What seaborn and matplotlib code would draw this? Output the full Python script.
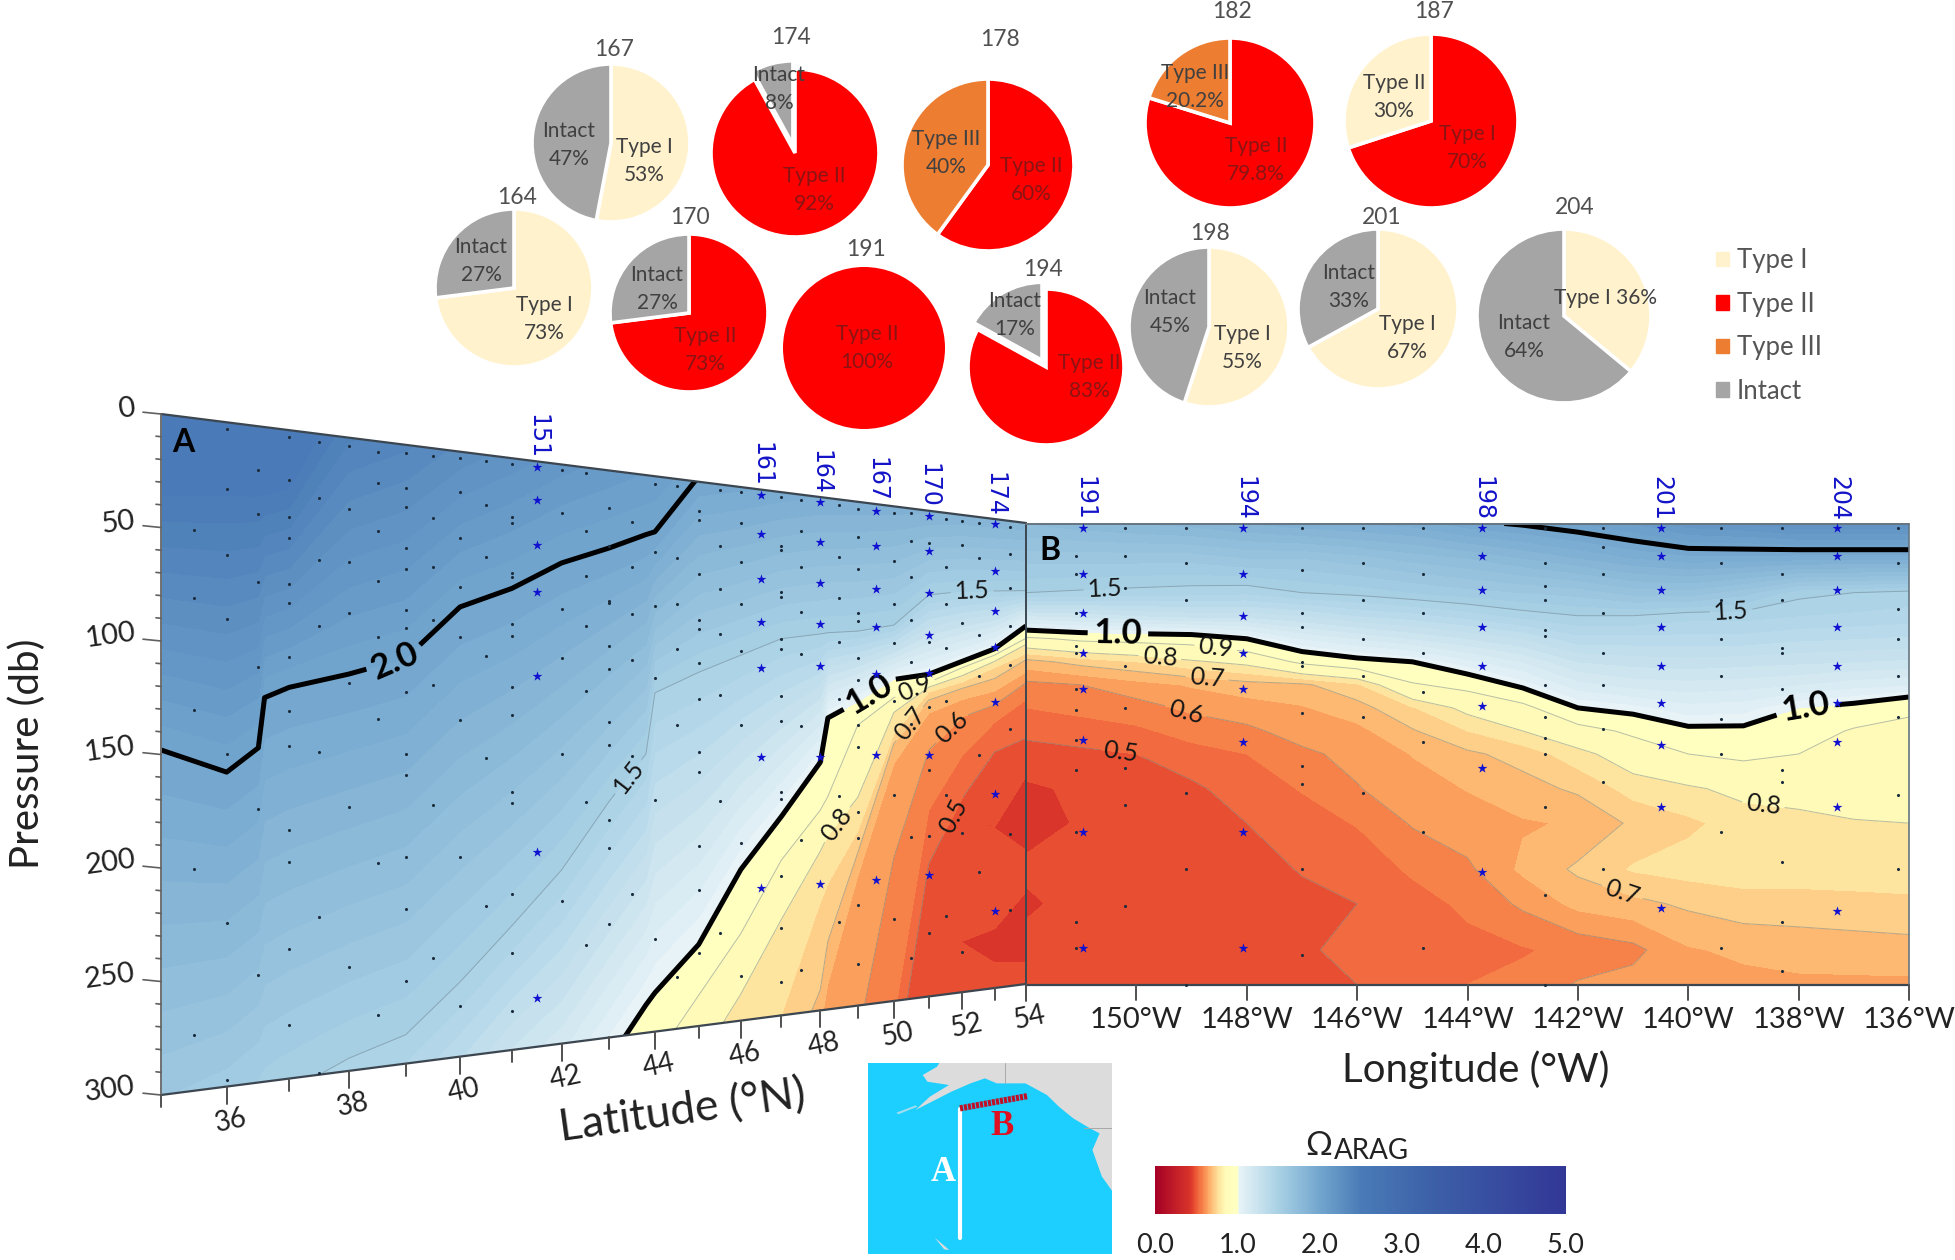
import numpy as np
import matplotlib
matplotlib.use("Agg")
import matplotlib.pyplot as plt
from matplotlib.colors import LinearSegmentedColormap, Normalize
from matplotlib.patches import Patch, Polygon
import seaborn as sns

W, H = 1955, 1260

sns.set_theme(style="white")
plt.rcParams["font.family"] = ["Lato", "DejaVu Sans"]

# ---- pies: station, slices, values
pie_names = ["167", "174", "178", "164", "170", "191", "194", "182", "187", "198", "201", "204"]
pie_kinds = [["Type I", "Intact"], ["Type II", "Intact"], ["Type II", "Type III"],
             ["Type I", "Intact"], ["Type II", "Intact"], ["Type II"], ["Type II", "Intact"],
             ["Type II", "Type III"], ["Type II", "Type I"], ["Type I", "Intact"],
             ["Type I", "Intact"], ["Type I", "Intact"]]
pie_values = [[53, 47], [92, 8], [60, 40], [73, 27], [73, 27], [100], [83, 17],
              [79.8, 20.2], [70, 30], [55, 45], [67, 33], [36, 64]]
pie_text = [["Type I\n53%", "Intact\n47%"], ["Type II\n92%", "Intact\n8%"], ["Type II\n60%", "Type III\n40%"],
            ["Type I\n73%", "Intact\n27%"], ["Type II\n73%", "Intact\n27%"], ["Type II\n100%"],
            ["Type II\n83%", "Intact\n17%"], ["Type II\n79.8%", "Type III\n20.2%"],
            ["Type I\n70%", "Type II\n30%"], ["Type I\n55%", "Intact\n45%"],
            ["Type I\n67%", "Intact\n33%"], ["Type I 36%", "Intact\n64%"]]
pie_explode = [[0, 0], [0, 0.1], [0, 0], [0, 0], [0, 0], [0], [0, 0.1], [0, 0], [0, 0], [0, 0], [0, 0], [0, 0]]

# where things sit on the page (px)
pie_centers = [(611, 143), (795, 153), (988, 165), (514, 288), (689, 313), (864, 348),
               (1046, 367), (1230, 123), (1431, 121), (1209, 327), (1378, 309), (1564, 316)]
pie_radius = [79, 84, 86, 79, 79, 81, 78, 85, 87, 80, 80, 87]
pie_title_xy = [(614, 49), (791, 37), (1000, 39), (517, 197), (690, 218), (866, 250),
                (1043, 269), (1232, 11), (1434, 12), (1210, 233), (1382, 217), (1575, 208)]
pie_label_xy = [[(644, 161), (569, 145)], [(814, 190), (779, 89)], [(1031, 180), (946, 153)],
                [(544, 319), (481, 261)], [(705, 350), (657, 289)], [(867, 348)],
                [(1089, 377), (1015, 315)], [(1256, 160), (1195, 87)], [(1467, 148), (1394, 97)],
                [(1242, 348), (1170, 312)], [(1407, 338), (1349, 287)], [(1605, 298), (1524, 337)]]

kind_colors = {"Type I": "#fff2cc", "Type II": "#ff0000", "Type III": "#ed7d31", "Intact": "#a5a5a5"}

# ---- section A: depth (db) of each isoline at each latitude
a_lats = [35, 36, 36.5, 36.6, 37, 38, 39, 40, 41, 42, 43, 43.8, 44, 45, 46, 47, 48, 48.2, 49, 50, 51, 52, 53, 54]
a_iso = [3.0, 2.5, 2.0, 1.5, 1.0, 0.9, 0.8, 0.75, 0.7, 0.65, 0.6, 0.55, 0.5,
         0.45, 0.43, 0.45, 0.47, 0.45, 0.43, 0.45, 0.47]
a_p30 = [-400, -400, -400, -400, -400, -400, -400, -400, -400, -400, -400, -400, -400, -400, -400, -400, -400, -400, -400, -400, -400, -400, -400, -400]
a_p25 = [36, 33, 32, 31, 27, -25, -40, -60, -80, -100, -120, -136, -140, -160, -180, -200, -220, -224, -240, -260, -280, -300, -320, -340]
a_p20 = [148, 158, 147, 124, 119, 112, 103.5, 77, 66, 51, 41, 32, 30, -3, -8, -14, -20, -20, -22, -24, -20, -22, -22, -22]
a_p15 = [340, 325, 315, 312, 306, 294, 286, 263, 237, 210, 175, 150, 117, 105, 94.5, 84, 80, 79, 77, 72, 52, 48, 46, 44]
a_p10 = [520, 500, 490, 488, 480, 450, 420, 390, 360, 345, 312, 285, 279, 255, 215, 186, 155, 129, 119, 105, 101, 92, 83, 67]
a_p09 = [560, 540, 530, 528, 520, 490, 460, 430, 400, 385, 345, 321, 315, 283, 251, 211, 183, 175, 133, 116, 106, 96, 87, 75]
a_p08 = [700, 700, 700, 700, 700, 700, 700, 700, 700, 700, 390, 358, 350, 320, 285, 245, 207, 198, 176, 125, 109, 101, 91, 79]
a_p075 = [710, 710, 710, 710, 710, 710, 710, 710, 710, 710, 420, 388, 380, 350, 330, 300, 237, 226, 196, 138, 112, 105, 95, 85]
a_p07 = [720, 720, 720, 720, 720, 720, 720, 720, 720, 720, 450, 410, 400, 380, 360, 340, 288, 260, 209, 144, 117, 109, 102, 89]
a_p065 = [730, 730, 730, 730, 730, 730, 730, 730, 730, 730, 480, 432, 420, 400, 390, 370, 310, 285, 223, 156, 125, 116, 110, 97]
a_p06 = [740, 740, 740, 740, 740, 740, 740, 740, 740, 740, 510, 454, 440, 420, 410, 400, 340, 335, 320, 213, 148, 127, 119, 104]
a_p055 = [750, 750, 750, 750, 750, 750, 750, 750, 750, 750, 540, 476, 460, 440, 430, 420, 370, 365, 350, 311, 185, 151, 130, 115]
a_p05 = [760, 760, 760, 760, 760, 760, 760, 760, 760, 760, 570, 498, 480, 460, 450, 440, 400, 395, 380, 350, 218, 178, 149, 140]
# the two dark tongues at the north end
a_t1 = [770, 770, 770, 770, 770, 770, 770, 770, 770, 770, 600, 520, 500, 480, 470, 460, 430, 425, 410, 380, 340, 185, 197, 165]
a_t2 = [771, 771, 771, 771, 771, 771, 771, 771, 771, 771, 601, 521, 501, 481, 471, 461, 431, 426, 411, 381, 341, 185.5, 197.5, 190]
a_t3 = [772, 772, 772, 772, 772, 772, 772, 772, 772, 772, 602, 522, 502, 482, 472, 462, 432, 427, 412, 382, 342, 186, 198, 213]
a_t4 = [773, 773, 773, 773, 773, 773, 773, 773, 773, 773, 603, 523, 503, 483, 473, 463, 433, 428, 413, 383, 343, 225, 225, 226]
a_t5 = [774, 774, 774, 774, 774, 774, 774, 774, 774, 774, 604, 524, 504, 484, 474, 464, 434, 429, 414, 384, 344, 268, 262, 240]
a_t6 = [775, 775, 775, 775, 775, 775, 775, 775, 775, 775, 605, 525, 505, 485, 475, 465, 435, 430, 415, 385, 345, 268.5, 273, 265]
a_t7 = [776, 776, 776, 776, 776, 776, 776, 776, 776, 776, 606, 526, 506, 486, 476, 466, 436, 431, 416, 386, 346, 269, 284, 286]
a_t8 = [800, 800, 800, 800, 800, 800, 800, 800, 800, 800, 620, 540, 520, 500, 490, 480, 450, 445, 430, 400, 360, 340, 340, 340]

# ---- section B: omega on a lon / pressure table
b_lons = [152, 151, 150, 149, 148, 147, 146, 145, 144, 143, 142, 141, 140, 139, 138, 137, 136]
b_press = [50, 65, 80, 90, 100, 110, 120, 130, 140, 150, 165, 180, 200, 215, 235, 250]
b_omega = [
    [1.75, 1.62, 1.50, 1.20, 0.88, 0.68, 0.585, 0.55, 0.51, 0.485, 0.44, 0.43, 0.46, 0.44, 0.47, 0.48],
    [1.78, 1.62, 1.49, 1.22, 0.92, 0.72, 0.60, 0.565, 0.525, 0.49, 0.46, 0.455, 0.47, 0.47, 0.48, 0.48],
    [1.80, 1.62, 1.48, 1.25, 0.93, 0.75, 0.63, 0.58, 0.54, 0.50, 0.48, 0.47, 0.47, 0.47, 0.48, 0.48],
    [1.82, 1.62, 1.47, 1.27, 0.94, 0.79, 0.655, 0.61, 0.57, 0.53, 0.49, 0.47, 0.47, 0.47, 0.48, 0.48],
    [1.85, 1.65, 1.46, 1.27, 1.00, 0.82, 0.68, 0.625, 0.59, 0.55, 0.525, 0.50, 0.47, 0.47, 0.48, 0.48],
    [1.88, 1.65, 1.50, 1.30, 1.10, 0.92, 0.69, 0.645, 0.62, 0.59, 0.553, 0.53, 0.505, 0.48, 0.495, 0.49],
    [1.90, 1.68, 1.52, 1.35, 1.15, 0.97, 0.74, 0.68, 0.635, 0.615, 0.597, 0.553, 0.52, 0.50, 0.51, 0.50],
    [1.92, 1.72, 1.55, 1.38, 1.20, 1.00, 0.89, 0.745, 0.695, 0.652, 0.63, 0.605, 0.558, 0.53, 0.52, 0.52],
    [1.98, 1.75, 1.58, 1.42, 1.25, 1.08, 0.93, 0.82, 0.75, 0.69, 0.652, 0.63, 0.59, 0.56, 0.535, 0.55],
    [2.01, 1.80, 1.60, 1.47, 1.30, 1.15, 1.02, 0.87, 0.80, 0.72, 0.68, 0.645, 0.66, 0.61, 0.545, 0.565],
    [2.05, 1.85, 1.62, 1.50, 1.38, 1.25, 1.13, 1.00, 0.86, 0.78, 0.71, 0.655, 0.71, 0.665, 0.565, 0.605],
    [2.10, 1.90, 1.67, 1.50, 1.38, 1.27, 1.17, 1.03, 0.92, 0.84, 0.77, 0.71, 0.755, 0.685, 0.585, 0.62],
    [2.18, 1.93, 1.68, 1.47, 1.38, 1.28, 1.18, 1.08, 0.98, 0.90, 0.79, 0.74, 0.77, 0.71, 0.645, 0.63],
    [2.20, 1.93, 1.62, 1.47, 1.38, 1.27, 1.17, 1.07, 0.98, 0.92, 0.82, 0.77, 0.775, 0.73, 0.66, 0.635],
    [2.25, 1.92, 1.52, 1.45, 1.36, 1.26, 1.15, 1.00, 0.95, 0.90, 0.83, 0.78, 0.775, 0.73, 0.67, 0.64],
    [2.25, 1.92, 1.50, 1.44, 1.35, 1.25, 1.12, 0.97, 0.89, 0.87, 0.84, 0.795, 0.775, 0.735, 0.675, 0.64],
    [2.25, 1.92, 1.48, 1.43, 1.34, 1.24, 1.10, 0.91, 0.885, 0.87, 0.84, 0.80, 0.775, 0.74, 0.68, 0.64],
]

# ---- stations (stars)
a_stations = ["151", "161", "164", "167", "170", "174"]
a_station_lat = [41.5, 46.5, 48, 49.5, 51, 53]
a_station_p = [[3, 20, 43, 67, 110, 200, 275],
               [3, 25, 51, 75, 101, 152, 226],
               [3, 26, 50, 74, 99, 152, 226],
               [4, 25, 51, 74, 102, 151, 226],
               [3, 25, 51, 77, 100, 151, 225],
               [3, 33, 59, 82, 117, 176, 251]]
b_stations = ["191", "194", "198", "201", "204"]
b_station_lon = [150.96, 148.06, 143.74, 140.5, 137.3]
b_station_p = [[52, 72, 89, 106, 122, 144, 184, 234],
               [52, 72, 90, 106, 122, 145, 184, 234],
               [52, 64, 79, 95, 112, 129, 156, 201],
               [52, 64, 79, 95, 112, 128, 146, 173, 217],
               [52, 64, 79, 95, 112, 128, 145, 173, 218]]

# ---- bottle depths (small dots)
a_dots = {
    35.5: [50, 80, 130, 201, 275],
    36: [3, 30, 60, 89, 150, 226, 297],
    36.5: [20, 40, 71, 110, 175, 251],
    37: [3, 23, 40, 50, 71, 80, 105, 130, 146, 185, 200, 240, 275],
    37.5: [4, 30, 59, 90, 149, 226, 299],
    38: [4, 34, 59, 83, 116, 175, 251],
    38.5: [5, 20, 43, 67, 94, 133, 202, 275],
    39: [4, 21, 30, 50, 60, 80, 89, 120, 150, 160, 200, 225, 260],
    39.5: [4, 34, 58, 84, 116, 175, 250],
    40: [3, 20, 43, 67, 92, 133, 201, 275],
    40.5: [3, 25, 51, 101, 152, 226],
    41: [3, 30, 33, 58, 60, 84, 90, 116, 130, 169, 175, 221, 251, 280],
    42: [3, 25, 75, 100, 150, 226],
    42.5: [3, 33, 57, 83, 117, 175, 250],
    43: [20, 40, 69, 70, 93, 105, 133, 145, 185, 200, 240],
    43.5: [26, 50, 75, 100, 151, 225],
    44: [4, 41, 70, 109, 175, 250],
    44.5: [4, 43, 68, 93, 134, 272],
    45: [16, 21, 51, 76, 81, 100, 120, 149, 160, 201, 225, 260],
    45.5: [3, 34, 58, 83, 117, 176, 250],
    46: [3, 20, 42, 66, 92, 134, 200, 275],
    47: [3, 31, 33, 57, 60, 84, 90, 117, 131, 172, 176, 220, 250, 281],
    47.5: [3, 21, 42, 68, 92, 134, 200, 275],
    48.5: [3, 34, 58, 84, 118, 175, 249],
    49: [4, 21, 40, 66, 71, 93, 106, 133, 146, 185, 200, 240, 275],
    50: [4, 33, 59, 83, 118, 175, 250],
    50.5: [3, 20, 42, 68, 94, 132, 201, 275],
    51: [20, 81, 121, 160, 201, 261],
    51.5: [4, 34, 57, 84, 117, 176, 251],
    52: [4, 19, 68, 200, 275],
    52.5: [4, 26, 75, 101, 151, 225],
    53.5: [4, 21, 43, 68, 93, 134, 202, 251],
}
b_dots = {
    151.1: [64, 72, 89, 103, 106, 122, 131, 144, 157, 184, 223, 234],
    150.2: [52, 64, 78, 112, 130, 156, 172, 216],
    149.1: [52, 67, 83, 167, 200, 250],
    147: [52, 70, 89, 95, 110, 112, 132, 155, 163, 200, 237],
    145.9: [52, 67, 83, 100, 116, 134, 167],
    144.8: [52, 72, 89, 106, 123, 145, 184, 234],
    142.6: [52, 67, 77, 83, 96, 99, 120, 134, 143, 150, 173, 211, 250],
    141.55: [52, 60, 72, 89, 106, 120, 139, 162, 200],
    139.4: [52, 67, 83, 100, 116, 135, 150, 184, 234],
    138.3: [52, 72, 83, 104, 106, 122, 157, 162, 197, 223, 244],
    136.2: [52, 67, 87, 100, 116, 134, 168, 200],
}

# ---- axes ticks
p_ticks = [0, 50, 100, 150, 200, 250, 300]
lat_ticks = [36, 38, 40, 42, 44, 46, 48, 50, 52, 54]
lat_minor = [35, 37, 39, 41, 43, 45, 47, 49, 51, 53]
lon_ticks = [150, 148, 146, 144, 142, 140, 138, 136]
cbar_ticks = [0, 1, 2, 3, 4, 5]

# ---- map outlines, in map units
map_land = [(150, 0), (145, 12), (115, 37), (125, 57), (170, 67), (130, 102), (100, 142), (175, 87), (215, 62),
            (245, 47), (270, 62), (330, 62), (375, 97), (400, 132), (430, 167), (465, 197), (485, 212),
            (470, 262), (490, 342), (520, 402), (511, 442), (511, 0)]
map_isle = [(60, 150), (100, 128), (104, 132), (64, 155)]
map_speck = [(140, 525), (165, 555), (170, 562), (160, 560)]
map_border_1 = [(288, 0), (288, 62)]
map_border_2 = [(453, 197), (511, 197)]
map_line_a = [(193, 140), (193, 527)]
map_line_b = [(193, 137), (335, 100)]


def px(x, y):
    return x / W, 1 - y / H


def warp_a(lat, p):
    # perspective of the tilted section
    lat = np.asarray(lat, dtype=float)
    p = np.asarray(p, dtype=float)
    u = (lat - 35) / 19
    g = u * 1.479 / (1 + 0.479 * u)
    top = 414 + 109 * g
    bot = 1095 - 111 * g
    return 161 + 865 * g, top + (bot - top) * p / 300


def warp_b(lon, p):
    lon = np.asarray(lon, dtype=float)
    p = np.asarray(p, dtype=float)
    return 1026 + (152 - lon) * 55.19, 523.5 + (p - 50) * 2.305


nodes = [(0, "#a50026"), (0.425, "#d9352a"), (0.475, "#e84e31"), (0.525, "#f26b40"), (0.575, "#f6824a"),
         (0.625, "#fa9f5c"), (0.675, "#fdb872"), (0.725, "#fdd08a"), (0.775, "#fee6a0"), (0.85, "#fffab8"),
         (0.95, "#ffffc0"), (1.0, "#ffffc4"), (1.01, "#e8f4f7"), (1.5, "#a9d1e5"), (2.0, "#73a6ce"),
         (2.5, "#4a7bb7"), (3.3, "#3d62a9"), (5.0, "#323796")]
omega_cmap = LinearSegmentedColormap.from_list("omega", [(v / 5, c) for v, c in nodes], N=1024)
omega_norm = Normalize(0, 5)
fill_levels = [0.4, 0.45, 0.5, 0.55, 0.6, 0.65, 0.7, 0.75, 0.8, 0.9, 1.0] + [1 + 0.05 * i for i in range(1, 41)]
thin_levels = [0.5, 0.6, 0.7, 0.8, 0.9, 1.5]
bold_levels = [1.0, 2.0]

fig = plt.figure(figsize=(W / 100, H / 100), dpi=100)
ax = fig.add_axes([0, 0, 1, 1])
ax.set_xlim(0, W)
ax.set_ylim(H, 0)
ax.axis("off")


def draw_section(X, Y, Z, clip, labels):
    cf = ax.contourf(X, Y, Z, levels=fill_levels, cmap=omega_cmap, norm=omega_norm, zorder=1)
    cf.set_clip_path(clip)
    for lev in thin_levels + bold_levels:
        bold = lev in bold_levels
        cs = ax.contour(X, Y, Z, levels=[lev], colors="black" if bold else "#6f7f88",
                        linewidths=3.6 if bold else 0.7, alpha=1 if bold else 0.5, zorder=3 if bold else 2)
        cs.set_clip_path(clip)
        spots = [(x, y) for v, x, y in labels if v == lev]
        if spots:
            texts = cs.clabel(manual=spots, fmt="%.1f", fontsize=25 if bold else 18, colors="black",
                              inline_spacing=6 if bold else 4)
            for t in texts:
                t.set_alpha(1)
                t.set_color("black" if bold else "#151515")
                if bold:
                    t.set_fontweight("bold")


# section A
a_depths = np.array([a_p30, a_p25, a_p20, a_p15, a_p10, a_p09, a_p08, a_p075, a_p07, a_p065, a_p06, a_p055, a_p05,
                     a_t1, a_t2, a_t3, a_t4, a_t5, a_t6, a_t7, a_t8], dtype=float)
a_grid_lat = np.tile(a_lats, (len(a_iso), 1))
a_grid_omega = np.tile(np.array(a_iso)[:, None], (1, len(a_lats)))
ax_a_x, ax_a_y = warp_a(a_grid_lat, a_depths)
corner_lat = [35, 54, 54, 35]
corner_p = [0, 0, 300, 300]
a_clip = Polygon(np.column_stack(warp_a(corner_lat, corner_p)), closed=True, transform=ax.transData, fc="none", ec="none")
ax.add_patch(a_clip)
draw_section(ax_a_x, ax_a_y, a_grid_omega, a_clip,
             [(1.5, 629, 777), (1.5, 972, 590), (0.9, 916, 691), (0.8, 840, 827),
              (0.7, 915, 728), (0.6, 954, 730), (0.5, 955, 817), (2.0, 396, 663), (1.0, 869, 693)])

# section B
b_omega_arr = np.array(b_omega).T
b_grid_lon, b_grid_p = np.meshgrid(b_lons, b_press)
bx, by = warp_b(b_grid_lon, b_grid_p)
b_clip = Polygon(np.column_stack(warp_b([152, 136, 136, 152], [50, 50, 250, 250])), closed=True,
                 transform=ax.transData, fc="none", ec="none")
ax.add_patch(b_clip)
draw_section(bx, by, b_omega_arr, b_clip,
             [(1.5, 1105, 589), (1.5, 1731, 600), (0.9, 1216, 646), (0.8, 1160, 655), (0.8, 1764, 799),
              (0.7, 1207, 676), (0.7, 1622, 893), (0.6, 1184, 717), (0.5, 1121, 753),
              (1.0, 1118, 629), (1.0, 1806, 711)])

# frames
frame = "#3c4650"
fx, fy = warp_a([35, 54], [0, 0])
ax.plot(fx, fy, color=frame, lw=1.6, zorder=4)
fx, fy = warp_a([35, 54], [300, 300])
ax.plot(fx, fy, color=frame, lw=1.6, zorder=4)
fx, fy = warp_a([35, 35], [0, 300])
ax.plot(fx, fy, color="#707070", lw=1.4, zorder=4)
fx, fy = warp_a([54, 54], [0, 300])
ax.plot(fx, fy, color=frame, lw=1.4, zorder=4)
fx, fy = warp_b([152, 136], [50, 50])
ax.plot(fx, fy, color="#667580", lw=1.4, zorder=4)
fx, fy = warp_b([152, 136], [250, 250])
ax.plot(fx, fy, color=frame, lw=1.6, zorder=4)
fx, fy = warp_b([136, 136], [50, 250])
ax.plot(fx, fy, color="#667580", lw=1.2, zorder=4)

# pressure ticks
for p in range(0, 301, 10):
    x0, y0 = warp_a(35, p)
    ln = 18 if p % 50 == 0 else 5
    ax.plot([x0 - ln, x0], [y0 - ln * 0.1, y0], color="#606060", lw=1.2, zorder=4)
for p in p_ticks:
    x0, y0 = warp_a(35, p)
    ax.text(x0 - 24, y0 - 5, str(p), ha="right", va="center", fontsize=21, rotation=8, color="#222222")

# latitude ticks
for lat in lat_ticks + lat_minor:
    x0, y0 = warp_a(lat, 300)
    ln = 17 if lat in lat_ticks else 12
    ax.plot([x0, x0], [y0, y0 + ln], color="#505050", lw=1.4, zorder=4)
for lat in lat_ticks:
    x0, y0 = warp_a(lat, 300)
    ax.text(x0 + 4, y0 + 34, str(lat), ha="center", va="center", fontsize=20, rotation=12, color="#222222")

# longitude ticks
for lon in [152] + lon_ticks:
    x0, y0 = warp_b(lon, 250)
    ax.plot([x0, x0], [y0, y0 + 15], color="#505050", lw=1.4, zorder=4)
for lon in lon_ticks:
    x0, y0 = warp_b(lon, 250)
    ax.text(x0, 1020, f"{lon}°W", ha="center", va="center", fontsize=21, color="#222222")

ax.text(27, 754, "Pressure (db)", rotation=90, ha="center", va="center", fontsize=29, color="#222222")
ax.text(682, 1112, "Latitude (°N)", rotation=8, ha="center", va="center", fontsize=32, color="#222222")
ax.text(1476, 1070, "Longitude (°W)", ha="center", va="center", fontsize=29, color="#222222")
ax.text(183, 443, "A", ha="center", va="center", fontsize=23, fontweight="bold", color="black", zorder=6)
ax.text(1050, 551, "B", ha="center", va="center", fontsize=23, fontweight="bold", color="black", zorder=6)

# bottles and stations
dot_x, dot_y = [], []
for lat, ps in a_dots.items():
    xs, ys = warp_a([lat] * len(ps), ps)
    dot_x += list(xs)
    dot_y += list(ys)
for lon, ps in b_dots.items():
    xs, ys = warp_b([lon] * len(ps), ps)
    dot_x += list(xs)
    dot_y += list(ys)
sns.scatterplot(x=dot_x, y=dot_y, ax=ax, s=5, color="#1b2c3c", linewidth=0, legend=False, zorder=5)

star_x, star_y = [], []
for name, lat, ps in zip(a_stations, a_station_lat, a_station_p):
    xs, ys = warp_a([lat] * len(ps), ps)
    star_x += list(xs)
    star_y += list(ys)
    x0, y0 = warp_a(lat, 0)
    ax.text(x0, y0 - 25, name, rotation=270, ha="center", va="center", fontsize=17,
            family="DejaVu Sans", color="#1414c8")
for name, lon, ps in zip(b_stations, b_station_lon, b_station_p):
    xs, ys = warp_b([lon] * len(ps), ps)
    star_x += list(xs)
    star_y += list(ys)
    x0, _ = warp_b(lon, 50)
    ax.text(x0 + 1, 498, name, rotation=270, ha="center", va="center", fontsize=17,
            family="DejaVu Sans", color="#1414c8")
sns.scatterplot(x=star_x, y=star_y, ax=ax, s=55, marker="*", color="#1010d0", linewidth=0, legend=False, zorder=5)

# pies
for i, name in enumerate(pie_names):
    cx, cy = pie_centers[i]
    r = pie_radius[i]
    half = r * 1.3
    x0, y1 = px(cx - half, cy + half)
    pax = fig.add_axes([x0, y1, 2 * half / W, 2 * half / H])
    pax.pie(pie_values[i], colors=[kind_colors[k] for k in pie_kinds[i]], explode=pie_explode[i],
            startangle=90, counterclock=False, radius=1,
            wedgeprops={"edgecolor": "white", "linewidth": 2.6 if len(pie_values[i]) > 1 else 0})
    pax.set_xlim(-1.3, 1.3)
    pax.set_ylim(-1.3, 1.3)
    pax.patch.set_alpha(0)
    tx, ty = px(*pie_title_xy[i])
    fig.text(tx, ty, name, ha="center", va="center", fontsize=16.5, color="#505050")
    for kind, label, pos in zip(pie_kinds[i], pie_text[i], pie_label_xy[i]):
        lx, ly = px(*pos)
        col = "#8a1414" if kind == "Type II" else "#404040"
        fig.text(lx, ly, label, ha="center", va="center", fontsize=15, color=col, linespacing=1.5)
handles = [Patch(color=kind_colors[k], label=k) for k in ["Type I", "Type II", "Type III", "Intact"]]
fig.legend(handles=handles, loc="upper left", bbox_to_anchor=px(1693, 225), frameon=False, fontsize=18.5,
           labelcolor="#555555", handlelength=0.5, handleheight=0.5, handletextpad=0.3, labelspacing=0.72)

# location map
map_ax = fig.add_axes([867.7 / W, 1 - 1254 / H, (1112 - 867.7) / W, (1254 - 1062.7) / H])
map_ax.set_xlim(0, 511)
map_ax.set_ylim(574, 0)
map_ax.set_facecolor("#1ccfff")
map_ax.set_xticks([])
map_ax.set_yticks([])
for s in map_ax.spines.values():
    s.set_visible(False)
map_ax.add_patch(Polygon(map_land, closed=True, fc="#dcdcdc", ec="none"))
map_ax.add_patch(Polygon(map_isle, closed=True, fc="#9fdcef", ec="none"))
map_ax.add_patch(Polygon(map_speck, closed=True, fc="#dcdcdc", ec="none"))
map_ax.plot(*zip(*map_border_1), color="#a8a8a8", lw=0.7)
map_ax.plot(*zip(*map_border_2), color="#a8a8a8", lw=0.7)
map_ax.plot(*zip(*map_line_a), color="white", lw=3)
map_ax.plot(*zip(*map_line_b), color="#c01028", lw=4.5, ls=(0, (0.5, 0.15)))
map_ax.text(157, 330, "A", color="white", fontsize=25, fontweight="bold", family="Liberation Serif", ha="center", va="center")
map_ax.text(280, 192, "B", color="#e01020", fontsize=25, fontweight="bold", family="Liberation Serif", ha="center", va="center")

# colour bar
cb_ax = fig.add_axes([1155 / W, 1 - 1214 / H, (1566 - 1155) / W, (1214 - 1166) / H])
cb_values = np.linspace(0, 5, 501)[None, :]
sns.heatmap(cb_values, ax=cb_ax, cmap=omega_cmap, vmin=0, vmax=5, cbar=False, yticklabels=False, rasterized=True)
cb_ax.set_xticks([v * 100 + 0.5 for v in cbar_ticks])
cb_ax.set_xticklabels([f"{v:.1f}" for v in cbar_ticks], rotation=0, fontsize=19.5, color="#222222")
cb_ax.tick_params(axis="x", length=0, pad=14)
tx, ty = px(1319, 1146)
fig.text(tx, ty, "Ω", ha="center", va="center", fontsize=24, color="#222222")
tx, ty = px(1371, 1151)
fig.text(tx, ty, "ARAG", ha="center", va="center", fontsize=20, color="#222222")

fig.savefig("out.png", dpi=100)
